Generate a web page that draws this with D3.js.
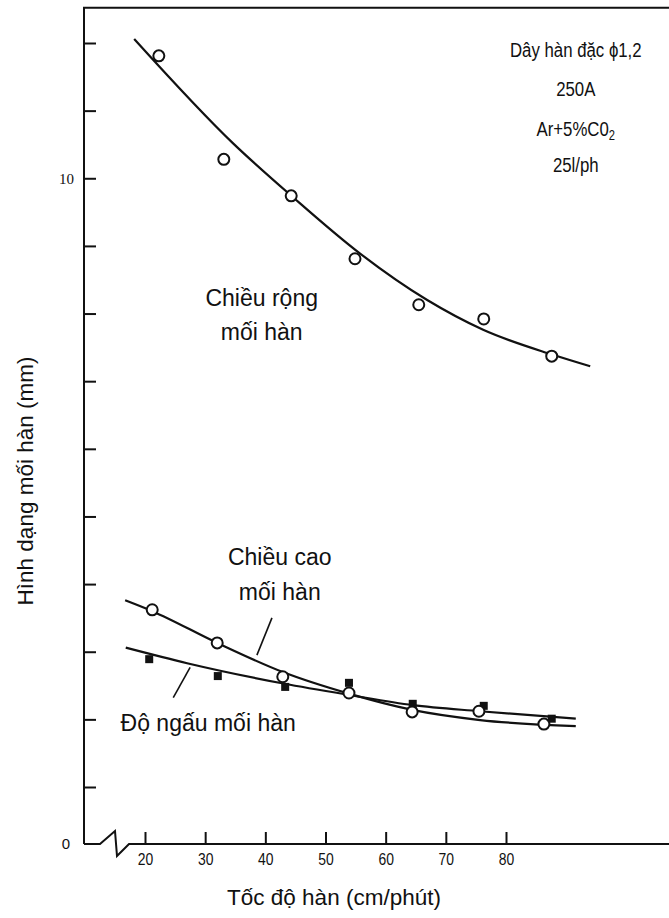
<!DOCTYPE html>
<html>
<head>
<meta charset="utf-8">
<script src="https://cdn.jsdelivr.net/npm/d3@7"></script>
<style>
  body { margin: 0; background: #fff; }
  text { font-family: "Liberation Sans", Arial, sans-serif; fill: #111; }
</style>
</head>
<body>
<script>
var widthX   = [22.3, 33.1, 44.3, 54.9, 65.5, 76.3, 87.6],
    widthY   = [11.81, 10.28, 9.74, 8.81, 8.13, 7.92, 7.37];
var heightX  = [21.2, 32.0, 42.9, 53.9, 64.4, 75.5, 86.3],
    heightY  = [3.62, 3.13, 2.63, 2.39, 2.11, 2.12, 1.93];
var penX     = [20.7, 32.1, 43.3, 53.9, 64.5, 76.3, 87.6],
    penY     = [2.89, 2.64, 2.48, 2.54, 2.23, 2.20, 2.01];

// hand-drawn fit curves
var widthFitX  = [18.2, 34.6, 44.6, 55.7, 66.9, 76.2, 87.8, 94.0],
    widthFitY  = [12.06, 10.52, 9.72, 8.89, 8.20, 7.76, 7.39, 7.22];
var heightFitX = [16.7, 21.2, 32.0, 42.9, 53.9, 64.4, 75.7, 91.6],
    heightFitY = [3.76, 3.60, 3.13, 2.70, 2.38, 2.14, 1.99, 1.90];
var penFitX    = [16.8, 27.0, 43.0, 54.0, 64.5, 75.7, 91.6],
    penFitY    = [3.06, 2.83, 2.53, 2.36, 2.21, 2.12, 2.01];

var xTicks = [20, 30, 40, 50, 60, 70, 80];
var yTicks = [0, 1, 2, 3, 4, 5, 6, 7, 8, 9, 10, 11, 12];

var notes = ["Dây hàn đặc ϕ1,2", "250A", "Ar+5%C0", "25l/ph"];

var W = 669, H = 918;

var svg = d3.select("body").append("svg")
    .attr("width", W)
    .attr("height", H);

var x = d3.scaleLinear().domain([20, 80]).range([145, 506]);
// the first step (0 -> 1) is drawn shorter in the original
var y = d3.scaleLinear().domain([0, 1, 12]).range([844, 787, 43]);

var x0 = 84, yTop = y(12.52);

// frame: left axis + top line
svg.append("path")
    .attr("d", "M" + x0 + "," + y(0) + "V" + yTop + "H" + W)
    .attr("fill", "none").attr("stroke", "#111").attr("stroke-width", 2);

// x axis with break mark
var y0 = y(0);
svg.append("path")
    .attr("d", "M" + x0 + "," + y0 + "H" + (x0 + 16) +
               "L" + (x0 + 31) + "," + (y0 - 13) +
               "L" + (x0 + 33) + "," + (y0 + 12) +
               "L" + (x0 + 45) + "," + y0 + "H" + W)
    .attr("fill", "none").attr("stroke", "#111").attr("stroke-width", 2);

var yAxis = svg.append("g")
    .attr("transform", "translate(" + x0 + ",0)")
    .call(d3.axisLeft(y).tickValues(yTicks).tickSizeInner(-12).tickSizeOuter(0).tickPadding(9)
        .tickFormat(function(d) { return d === 10 || d === 0 ? String(d) : ""; }));
yAxis.select(".domain").remove();
yAxis.selectAll(".tick line").attr("stroke", "#111").attr("stroke-width", 2)
    .filter(function(d) { return d === 0; }).remove();
yAxis.selectAll(".tick text")
    .attr("font-size", 15)
    .style("font-family", function(d) { return d === 10 ? "'Liberation Serif', serif" : null; })
    .attr("x", function(d) { return d === 0 ? -14 : -10; });

var xAxis = svg.append("g")
    .attr("transform", "translate(0," + y0 + ")")
    .call(d3.axisBottom(x).tickValues(xTicks).tickSizeInner(-12).tickSizeOuter(0).tickPadding(9));
xAxis.select(".domain").remove();
xAxis.selectAll(".tick line").attr("stroke", "#111").attr("stroke-width", 2);
xAxis.selectAll(".tick text").attr("font-size", 17).attr("transform", "scale(0.82,1)");

// axis titles
svg.append("text")
    .attr("x", 334).attr("y", 905)
    .attr("text-anchor", "middle").attr("font-size", 22.5)
    .text("Tốc độ hàn (cm/phút)");

svg.append("text")
    .attr("transform", "translate(33,481) rotate(-90)")
    .attr("text-anchor", "middle").attr("font-size", 22.5)
    .text("Hình dạng mối hàn (mm)");

// fit curves
var line = d3.line()
    .x(function(d) { return x(d[0]); })
    .y(function(d) { return y(d[1]); })
    .curve(d3.curveMonotoneX);

[[widthFitX, widthFitY], [heightFitX, heightFitY], [penFitX, penFitY]].forEach(function(s) {
  svg.append("path")
      .datum(d3.zip(s[0], s[1]))
      .attr("d", line)
      .attr("fill", "none").attr("stroke", "#111").attr("stroke-width", 2.2);
});

// leader lines
var leaders = [[[41.1, 3.50], [38.6, 2.95]], [[27.5, 2.77], [24.7, 2.32]]];
leaders.forEach(function(l) {
  svg.append("line")
      .attr("x1", x(l[0][0])).attr("y1", y(l[0][1]))
      .attr("x2", x(l[1][0])).attr("y2", y(l[1][1]))
      .attr("stroke", "#111").attr("stroke-width", 1.6);
});

// penetration: filled squares (under the circles)
svg.selectAll("rect.pen")
  .data(d3.zip(penX, penY))
  .join("rect")
    .attr("class", "pen")
    .attr("x", function(d) { return x(d[0]) - 4; })
    .attr("y", function(d) { return y(d[1]) - 4; })
    .attr("width", 8).attr("height", 8)
    .attr("fill", "#111");

// open circles: width and height
svg.selectAll("circle.pt")
  .data(d3.zip(widthX, widthY).concat(d3.zip(heightX, heightY)))
  .join("circle")
    .attr("class", "pt")
    .attr("cx", function(d) { return x(d[0]); })
    .attr("cy", function(d) { return y(d[1]); })
    .attr("r", 5.5)
    .attr("fill", "#fff").attr("stroke", "#111").attr("stroke-width", 2);

// curve labels
function label(lines, xv, yvs, size) {
  lines.forEach(function(t, i) {
    svg.append("text")
        .attr("x", x(xv)).attr("y", y(yvs[i]))
        .attr("dy", "0.35em")
        .attr("text-anchor", "middle").attr("font-size", size)
        .text(t);
  });
}
label(["Chiều rộng", "mối hàn"], 39.4, [8.23, 7.73], 23);
label(["Chiều cao", "mối hàn"], 42.4, [4.40, 3.88], 23);
label(["Độ ngấu mối hàn"], 30.5, [1.95], 23);

// conditions, top right (condensed lettering)
var noteY = [11.90, 11.33, 10.74, 10.20];
notes.forEach(function(t, i) {
  var tx = svg.append("text")
      .attr("transform", "translate(" + x(91.6) + "," + y(noteY[i]) + ") scale(0.8,1)")
      .attr("dy", "0.35em")
      .attr("text-anchor", "middle").attr("font-size", 21)
      .text(t);
  if (i === 2) {
    tx.append("tspan").attr("font-size", 14).attr("dy", "0.3em").text("2");
  }
});
</script>
</body>
</html>
